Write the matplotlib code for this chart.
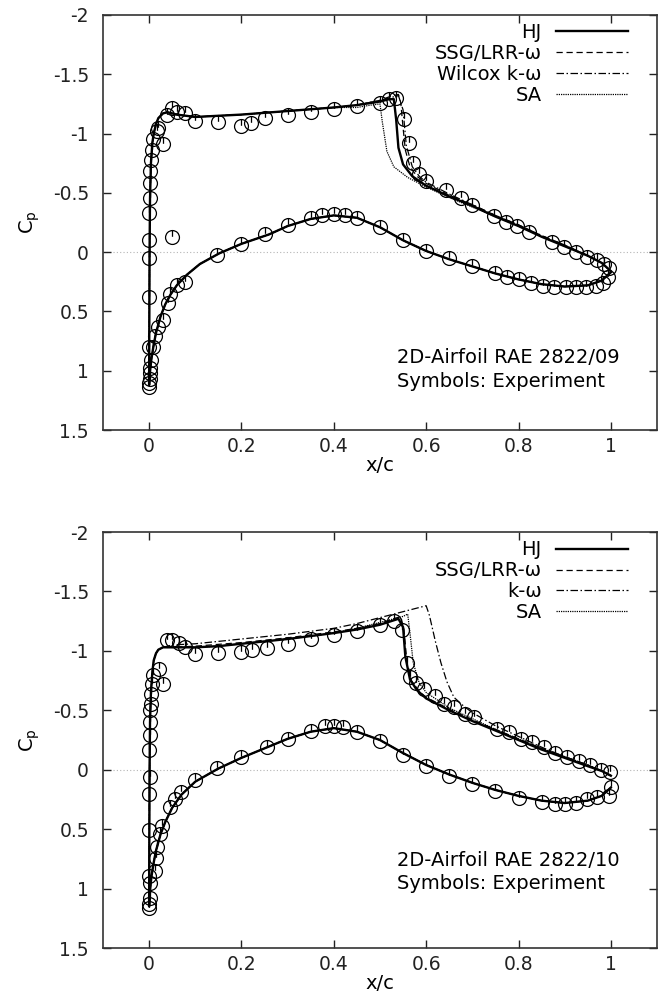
import matplotlib
matplotlib.use("Agg")
import matplotlib.pyplot as plt
from matplotlib.path import Path

plt.rcParams['font.family'] = ['DejaVu Sans']
plt.rcParams['mathtext.fontset'] = 'dejavusans'

# ---------------- Case 9 (top panel) ----------------
c9_exp_up_x = [0.0, 0.0, 0.0, 0.0, 0.0, 0.001, 0.002, 0.003, 0.004, 0.006, 0.008, 0.018, 0.02, 0.031,
               0.038, 0.049, 0.061, 0.078, 0.10, 0.15, 0.20, 0.221, 0.25, 0.30, 0.35, 0.40, 0.45, 0.50,
               0.52, 0.535, 0.552, 0.562, 0.572, 0.585, 0.60, 0.642, 0.675, 0.70, 0.747, 0.772, 0.797,
               0.823, 0.873, 0.899, 0.924, 0.949, 0.971, 0.985, 0.996]
c9_exp_up_cp = [0.80, 0.38, 0.05, -0.10, -0.33, -0.46, -0.58, -0.685, -0.78, -0.86, -0.95, -1.02, -1.045,
                -0.91, -1.157, -1.213, -1.185, -1.176, -1.11, -1.10, -1.064, -1.087, -1.13, -1.16, -1.18,
                -1.21, -1.23, -1.26, -1.29, -1.30, -1.12, -0.92, -0.75, -0.66, -0.60, -0.524, -0.455,
                -0.398, -0.305, -0.257, -0.22, -0.173, -0.088, -0.046, -0.004, 0.038, 0.066, 0.10, 0.136]
c9_exp_lo_x = [0.0, 0.0, 0.001, 0.002, 0.003, 0.005, 0.008, 0.012, 0.02, 0.031, 0.042, 0.045, 0.06, 0.078,
               0.147, 0.20, 0.25, 0.30, 0.35, 0.375, 0.40, 0.425, 0.45, 0.50, 0.55, 0.60, 0.649, 0.70, 0.75,
               0.776, 0.80, 0.826, 0.852, 0.877, 0.902, 0.924, 0.946, 0.967, 0.982, 0.993]
c9_exp_lo_cp = [1.134, 1.10, 1.07, 1.02, 0.98, 0.91, 0.797, 0.71, 0.628, 0.57, 0.43, 0.35, 0.277, 0.25,
                0.024, -0.07, -0.15, -0.23, -0.29, -0.31, -0.32, -0.31, -0.29, -0.21, -0.10, -0.01, 0.052,
                0.116, 0.178, 0.211, 0.229, 0.257, 0.283, 0.29, 0.29, 0.296, 0.296, 0.285, 0.262, 0.206]
c9_exp_out_x = [0.049]
c9_exp_out_cp = [-0.13]

# CFD: shared suction-side leading part and pressure side
c9_up_le_x = [0.0, 0.0005, 0.001, 0.002, 0.004, 0.007, 0.01, 0.015, 0.02, 0.03, 0.04, 0.06, 0.1,
              0.15, 0.2, 0.3, 0.4]
c9_up_le_cp = [1.12, 0.6, 0.0, -0.45, -0.75, -0.92, -1.0, -1.08, -1.13, -1.17, -1.18, -1.16, -1.14,
               -1.15, -1.16, -1.19, -1.22]
c9_lo_x = [0.0, 0.002, 0.005, 0.01, 0.015, 0.025, 0.035, 0.046, 0.06, 0.082, 0.11, 0.152, 0.2, 0.26,
           0.3, 0.35, 0.4, 0.45, 0.5, 0.55, 0.6, 0.65, 0.7, 0.75, 0.8, 0.85, 0.9, 0.95, 0.98, 1.0]
c9_lo_cp = [1.12, 1.0, 0.9, 0.78, 0.68, 0.54, 0.44, 0.36, 0.28, 0.19, 0.10, 0.01, -0.07, -0.15,
            -0.22, -0.28, -0.31, -0.29, -0.21, -0.10, -0.01, 0.06, 0.12, 0.18, 0.23, 0.27, 0.29, 0.28,
            0.24, 0.17]
c9_hj_x = [0.45, 0.5, 0.52, 0.53, 0.535, 0.54, 0.55, 0.57, 0.6, 0.65, 0.7, 0.75, 0.8, 0.85, 0.9, 0.95,
           0.98, 1.0]
c9_hj_cp = [-1.24, -1.27, -1.29, -1.29, -1.12, -0.88, -0.74, -0.64, -0.56, -0.47, -0.39, -0.30, -0.22,
            -0.13, -0.05, 0.03, 0.09, 0.16]
c9_ssg_x = [0.45, 0.5, 0.52, 0.54, 0.545, 0.55, 0.555, 0.565, 0.58, 0.6, 0.65, 0.7, 0.75, 0.8, 0.85,
            0.9, 0.95, 0.98, 1.0]
c9_ssg_cp = [-1.24, -1.28, -1.31, -1.33, -1.26, -1.05, -0.86, -0.72, -0.64, -0.58, -0.48, -0.40, -0.31,
             -0.23, -0.14, -0.06, 0.03, 0.09, 0.16]
c9_wil_x = [0.45, 0.5, 0.52, 0.54, 0.55, 0.557, 0.57, 0.585, 0.6, 0.65, 0.7, 0.75, 0.8, 0.85, 0.9, 0.95,
            0.98, 1.0]
c9_wil_cp = [-1.24, -1.28, -1.30, -1.32, -1.20, -0.90, -0.72, -0.64, -0.59, -0.49, -0.40, -0.31, -0.23,
             -0.14, -0.06, 0.03, 0.09, 0.16]
c9_sa_x = [0.45, 0.48, 0.5, 0.505, 0.515, 0.53, 0.56, 0.6, 0.65, 0.7, 0.75, 0.8, 0.85, 0.9, 0.95, 0.98,
           1.0]
c9_sa_cp = [-1.22, -1.24, -1.25, -1.10, -0.85, -0.72, -0.63, -0.55, -0.46, -0.38, -0.30, -0.22, -0.13,
            -0.05, 0.03, 0.09, 0.16]

# ---------------- Case 10 (bottom panel) ----------------
c10_exp_up_x = [0.0, 0.0, 0.001, 0.0, 0.001, 0.002, 0.003, 0.004, 0.005, 0.007, 0.008, 0.022, 0.031,
                0.038, 0.049, 0.064, 0.078, 0.10, 0.15, 0.20, 0.223, 0.255, 0.30, 0.35, 0.40, 0.45,
                0.50, 0.53, 0.548, 0.558, 0.566, 0.578, 0.595, 0.62, 0.638, 0.66, 0.685, 0.703, 0.754,
                0.779, 0.805, 0.83, 0.855, 0.88, 0.904, 0.931, 0.955, 0.978, 0.998]
c10_exp_up_cp = [0.51, 0.203, 0.057, -0.162, -0.289, -0.40, -0.50, -0.556, -0.64, -0.724, -0.794,
                 -0.85, -0.718, -1.09, -1.09, -1.064, -1.033, -0.977, -0.982, -0.99, -1.005, -1.027,
                 -1.06, -1.10, -1.13, -1.17, -1.22, -1.25, -1.18, -0.90, -0.78, -0.73, -0.68, -0.62,
                 -0.555, -0.527, -0.47, -0.443, -0.345, -0.316, -0.26, -0.232, -0.19, -0.142, -0.105,
                 -0.071, -0.043, 0.001, 0.02]
c10_exp_lo_x = [0.0, 0.0, 0.001, 0.002, 0.0, 0.012, 0.014, 0.017, 0.024, 0.028, 0.045, 0.057, 0.07, 0.10,
                0.147, 0.20, 0.255, 0.30, 0.35, 0.38, 0.40, 0.42, 0.45, 0.50, 0.55, 0.60, 0.65, 0.70,
                0.75, 0.80, 0.85, 0.88, 0.90, 0.925, 0.949, 0.971, 0.996, 1.0]
c10_exp_lo_cp = [1.16, 1.13, 1.075, 0.95, 0.89, 0.85, 0.74, 0.653, 0.54, 0.47, 0.316, 0.245, 0.19, 0.09,
                 -0.013, -0.105, -0.19, -0.26, -0.33, -0.37, -0.37, -0.36, -0.32, -0.24, -0.12, -0.03,
                 0.05, 0.12, 0.18, 0.24, 0.27, 0.29, 0.29, 0.28, 0.246, 0.232, 0.218, 0.148]

c10_up_le_x = [0.0, 0.0005, 0.001, 0.002, 0.004, 0.007, 0.01, 0.015, 0.02, 0.03, 0.05, 0.1, 0.15, 0.2,
               0.3, 0.4]
c10_up_le_cp = [1.15, 0.6, 0.0, -0.4, -0.65, -0.82, -0.92, -0.98, -1.01, -1.03, -1.03, -1.03, -1.04,
                -1.06, -1.10, -1.15]
c10_lo_x = [0.0, 0.002, 0.005, 0.01, 0.015, 0.025, 0.035, 0.05, 0.07, 0.1, 0.15, 0.2, 0.25, 0.3, 0.35,
            0.4, 0.45, 0.5, 0.55, 0.6, 0.65, 0.7, 0.75, 0.8, 0.85, 0.9, 0.95, 0.98, 1.0]
c10_lo_cp = [1.15, 1.02, 0.9, 0.78, 0.68, 0.54, 0.44, 0.32, 0.21, 0.10, -0.01, -0.10, -0.18, -0.26,
             -0.32, -0.35, -0.32, -0.25, -0.14, -0.04, 0.04, 0.11, 0.17, 0.22, 0.26, 0.28, 0.26, 0.22,
             0.15]
c10_hj_x = [0.45, 0.5, 0.54, 0.55, 0.555, 0.565, 0.58, 0.6, 0.65, 0.7, 0.75, 0.8, 0.85, 0.9, 0.95, 0.98,
            1.0]
c10_hj_cp = [-1.18, -1.22, -1.27, -1.20, -0.95, -0.76, -0.67, -0.60, -0.50, -0.41, -0.33, -0.25, -0.17,
             -0.10, -0.03, 0.01, 0.05]
c10_ssg_x = [0.1, 0.2, 0.3, 0.4, 0.45, 0.5, 0.545, 0.552, 0.558, 0.568, 0.585, 0.6, 0.65, 0.7, 0.75, 0.8,
             0.85, 0.9, 0.95, 0.98, 1.0]
c10_ssg_cp = [-1.04, -1.07, -1.11, -1.16, -1.19, -1.23, -1.29, -1.18, -0.92, -0.75, -0.66, -0.61, -0.51,
              -0.42, -0.34, -0.26, -0.18, -0.11, -0.04, 0.01, 0.05]
c10_kw_x = [0.05, 0.1, 0.15, 0.2, 0.3, 0.4, 0.45, 0.5, 0.55, 0.6, 0.607, 0.62, 0.632, 0.645, 0.66, 0.68,
            0.7, 0.75, 0.8, 0.85, 0.9, 0.95, 0.98, 1.0]
c10_kw_cp = [-1.05, -1.06, -1.08, -1.10, -1.14, -1.19, -1.23, -1.28, -1.33, -1.38, -1.30, -1.08, -0.90,
             -0.74, -0.61, -0.54, -0.48, -0.37, -0.28, -0.19, -0.11, -0.04, 0.01, 0.05]
c10_sa_x = [0.45, 0.5, 0.55, 0.56, 0.565, 0.572, 0.585, 0.6, 0.65, 0.7, 0.75, 0.8, 0.85, 0.9, 0.95, 0.98,
            1.0]
c10_sa_cp = [-1.19, -1.24, -1.29, -1.31, -1.15, -0.90, -0.73, -0.65, -0.52, -0.43, -0.34, -0.26,
             -0.18, -0.11, -0.04, 0.01, 0.05]

labels_top = ['HJ', 'SSG/LRR-ω', 'Wilcox k-ω', 'SA']
labels_bot = ['HJ', 'SSG/LRR-ω', 'k-ω', 'SA']
xticks = [0, 0.2, 0.4, 0.6, 0.8, 1]
xticklabels = ['0', '0.2', '0.4', '0.6', '0.8', '1']
yticks = [-2, -1.5, -1, -0.5, 0, 0.5, 1, 1.5]
yticklabels = ['-2', '-1.5', '-1', '-0.5', '0', '0.5', '1', '1.5']
annot_top = ['2D-Airfoil RAE 2822/09', 'Symbols: Experiment']
annot_bot = ['2D-Airfoil RAE 2822/10', 'Symbols: Experiment']

# marker: open circle with a short stem on top
circ = Path.unit_circle()
stem = Path([[0.0, 0.1], [0.0, 1.0]], [Path.MOVETO, Path.LINETO])
exp_marker = Path.make_compound_path(circ, stem)

styles = [
    dict(color='black', lw=1.7, linestyle='-'),
    dict(color='black', lw=0.9, linestyle=(0, (5.0, 3.0))),
    dict(color='black', lw=0.9, linestyle=(0, (6.0, 2.0, 1.2, 2.0))),
    dict(color='black', lw=0.9, linestyle=(0, (1.0, 0.8))),
]

FS_TICK = 13.5
FS_TEXT = 14


def loop(le_x, le_cp, sh_x, sh_cp, lo_x, lo_cp):
    start = sh_x[0]
    ux = [v for v in le_x if v < start] + list(sh_x)
    uc = [c for v, c in zip(le_x, le_cp) if v < start] + list(sh_cp)
    return ux[::-1] + list(lo_x), uc[::-1] + list(lo_cp)


def panel(ax, le_x, le_cp, lo_x, lo_cp, models, labels, exps, annot, ann_y):
    ax.axhline(0, color='#b5b5b5', lw=0.8, linestyle=(0, (1, 2)), zorder=1)
    handles = []
    for (sx, sc), st, lab in zip(models, styles, labels):
        x, c = loop(le_x, le_cp, sx, sc, lo_x, lo_cp)
        h, = ax.plot(x, c, label=lab, zorder=3, **st)
        handles.append(h)
    for ex, ec in exps:
        ax.plot(ex, ec, linestyle='none', marker=exp_marker, markersize=10,
                markerfacecolor='none', markeredgecolor='black', markeredgewidth=0.9, zorder=4)
    ax.set_xlim(-0.1, 1.1)
    ax.set_ylim(1.5, -2)
    ax.set_xticks(xticks)
    ax.set_xticklabels(xticklabels)
    ax.set_yticks(yticks)
    ax.set_yticklabels(yticklabels)
    ax.tick_params(direction='in', length=6, width=1.0, top=True, right=True,
                   labelsize=FS_TICK, colors='#222222')
    ax.tick_params(axis='y', pad=10)
    ax.tick_params(axis='x', pad=5)
    for s in ax.spines.values():
        s.set_linewidth(1.2)
        s.set_color('#333333')
    ax.set_xlabel('x/c', fontsize=FS_TEXT, labelpad=0)
    ax.set_ylabel(r'C$_\mathregular{p}$', fontsize=FS_TEXT, labelpad=8)
    ax.legend(handles=handles, loc='upper right', bbox_to_anchor=(0.948, 0.98),
              frameon=False, markerfirst=False, fontsize=FS_TEXT, handlelength=3.7,
              handletextpad=0.75, labelspacing=0.1, borderpad=0.0, borderaxespad=0.0)
    ax.text(0.536, ann_y[0], annot[0], fontsize=FS_TEXT, ha='left', va='center')
    ax.text(0.536, ann_y[1], annot[1], fontsize=FS_TEXT, ha='left', va='center')


fig = plt.figure(figsize=(6.64, 10.05), dpi=100)
ax1 = fig.add_axes([0.155, 0.5721, 0.8345, 0.4130])
ax2 = fig.add_axes([0.155, 0.0567, 0.8345, 0.4139])

panel(ax1, c9_up_le_x, c9_up_le_cp, c9_lo_x, c9_lo_cp,
      [(c9_hj_x, c9_hj_cp), (c9_ssg_x, c9_ssg_cp), (c9_wil_x, c9_wil_cp), (c9_sa_x, c9_sa_cp)],
      labels_top,
      [(c9_exp_up_x, c9_exp_up_cp), (c9_exp_lo_x, c9_exp_lo_cp), (c9_exp_out_x, c9_exp_out_cp)],
      annot_top, (0.89, 1.09))
panel(ax2, c10_up_le_x, c10_up_le_cp, c10_lo_x, c10_lo_cp,
      [(c10_hj_x, c10_hj_cp), (c10_ssg_x, c10_ssg_cp), (c10_kw_x, c10_kw_cp), (c10_sa_x, c10_sa_cp)],
      labels_bot,
      [(c10_exp_up_x, c10_exp_up_cp), (c10_exp_lo_x, c10_exp_lo_cp)],
      annot_bot, (0.76, 0.955))

fig.savefig('out.png', dpi=100)
